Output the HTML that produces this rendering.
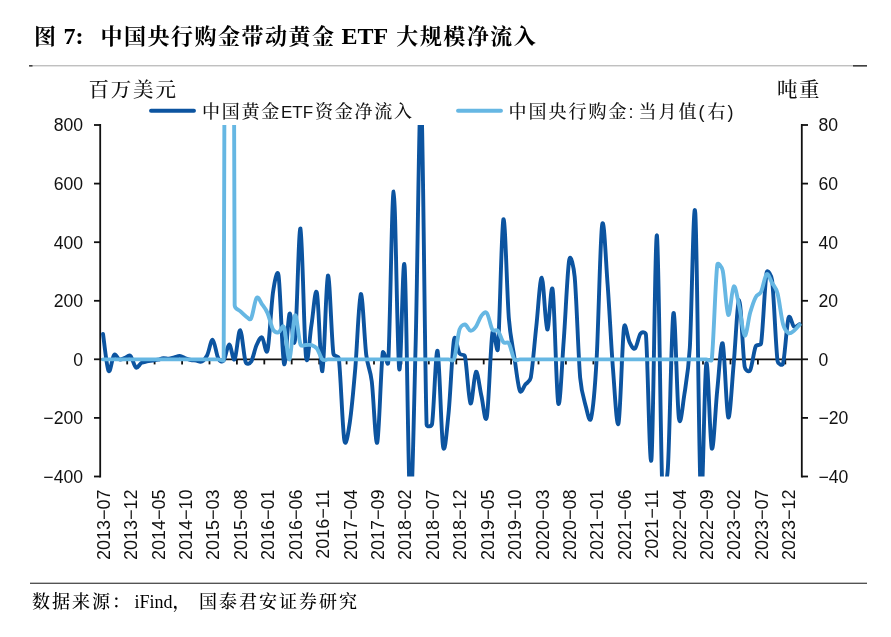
<!DOCTYPE html>
<html lang="zh-CN"><head><meta charset="utf-8"><title>图 7</title>
<style>
html,body{margin:0;padding:0;background:#fff;}
body{width:891px;height:637px;position:relative;overflow:hidden;font-family:"Liberation Serif","Noto Serif CJK SC",serif;color:#000;}
.title{position:absolute;left:34px;top:20px;font-size:22px;font-weight:bold;line-height:32px;white-space:nowrap;letter-spacing:1.5px;font-family:"Liberation Serif","Noto Serif CJK SC",serif;}
.title .en{letter-spacing:0;font-size:24px;}
.src{font-weight:500;position:absolute;left:32px;top:588px;font-size:18px;line-height:28px;white-space:nowrap;letter-spacing:2px;font-family:"Liberation Serif","Noto Serif CJK SC",serif;}
.src .en{letter-spacing:0;}
svg{position:absolute;left:0;top:0;}
.ax{font-family:"Liberation Sans",sans-serif;font-size:17.6px;fill:#111;}
.xl{font-family:"Liberation Sans",sans-serif;font-size:18px;fill:#111;}
.cj{font-family:"Liberation Sans","Noto Serif CJK SC",serif;fill:#111;font-weight:500;}
</style></head><body>
<div class="title"><span id="t1">图</span><span class="en" id="t2" style="margin-right:17px">&nbsp;7:</span><span id="t3">中国央行购金带动黄金</span><span class="en" id="t4" style="margin:0 2px 0 0">&nbsp;ETF&nbsp;</span><span id="t5">大规模净流入</span></div>
<svg width="891" height="637" viewBox="0 0 891 637">
<defs><clipPath id="cp"><rect x="98" y="125.0" width="706" height="351.5"/></clipPath></defs>
<rect x="30" y="65.3" width="837" height="1" fill="#a6a6a6"/>
<rect x="29" y="65.2" width="3.5" height="1.3" fill="#222"/><rect x="853" y="65.2" width="14" height="1.3" fill="#222"/>
<rect x="30" y="582.7" width="837" height="1.1" fill="#2a2a2a"/>
<g stroke="#111" stroke-width="1.8" fill="none">
<path d="M100.2,124.1V477.4"/>
<path d="M801.8,124.1V477.4"/>
<path d="M100,359.4H802"/>
<path d="M94,125.0H100.2"/><path d="M801.8,125.0H808"/>
<path d="M94,183.6H100.2"/><path d="M801.8,183.6H808"/>
<path d="M94,242.2H100.2"/><path d="M801.8,242.2H808"/>
<path d="M94,300.8H100.2"/><path d="M801.8,300.8H808"/>
<path d="M94,359.3H100.2"/><path d="M801.8,359.3H808"/>
<path d="M94,417.9H100.2"/><path d="M801.8,417.9H808"/>
<path d="M94,476.5H100.2"/><path d="M801.8,476.5H808"/>
<path d="M127.2,359.4V364.4"/><path d="M154.6,359.4V364.4"/><path d="M182.1,359.4V364.4"/><path d="M209.5,359.4V364.4"/><path d="M236.9,359.4V364.4"/><path d="M264.3,359.4V364.4"/><path d="M291.7,359.4V364.4"/><path d="M319.2,359.4V364.4"/><path d="M346.6,359.4V364.4"/><path d="M374.0,359.4V364.4"/><path d="M401.4,359.4V364.4"/><path d="M428.8,359.4V364.4"/><path d="M456.3,359.4V364.4"/><path d="M483.7,359.4V364.4"/><path d="M511.1,359.4V364.4"/><path d="M538.5,359.4V364.4"/><path d="M565.9,359.4V364.4"/><path d="M593.4,359.4V364.4"/><path d="M620.8,359.4V364.4"/><path d="M648.2,359.4V364.4"/><path d="M675.6,359.4V364.4"/><path d="M703.0,359.4V364.4"/><path d="M730.5,359.4V364.4"/><path d="M757.9,359.4V364.4"/><path d="M785.3,359.4V364.4"/>
</g>
<text class="ax" x="83" y="131.4" text-anchor="end">800</text><text class="ax" x="818.5" y="131.4">80</text>
<text class="ax" x="83" y="190.0" text-anchor="end">600</text><text class="ax" x="818.5" y="190.0">60</text>
<text class="ax" x="83" y="248.6" text-anchor="end">400</text><text class="ax" x="818.5" y="248.6">40</text>
<text class="ax" x="83" y="307.1" text-anchor="end">200</text><text class="ax" x="818.5" y="307.1">20</text>
<text class="ax" x="83" y="365.7" text-anchor="end">0</text><text class="ax" x="818.5" y="365.7">0</text>
<text class="ax" x="83" y="424.3" text-anchor="end">−200</text><text class="ax" x="818.5" y="424.3">−20</text>
<text class="ax" x="83" y="482.9" text-anchor="end">−400</text><text class="ax" x="818.5" y="482.9">−40</text>
<text class="xl" transform="translate(109.7,489.5) rotate(-90)" text-anchor="end">2013−07</text>
<text class="xl" transform="translate(137.2,489.5) rotate(-90)" text-anchor="end">2013−12</text>
<text class="xl" transform="translate(164.6,489.5) rotate(-90)" text-anchor="end">2014−05</text>
<text class="xl" transform="translate(192.0,489.5) rotate(-90)" text-anchor="end">2014−10</text>
<text class="xl" transform="translate(219.4,489.5) rotate(-90)" text-anchor="end">2015−03</text>
<text class="xl" transform="translate(246.8,489.5) rotate(-90)" text-anchor="end">2015−08</text>
<text class="xl" transform="translate(274.3,489.5) rotate(-90)" text-anchor="end">2016−01</text>
<text class="xl" transform="translate(301.7,489.5) rotate(-90)" text-anchor="end">2016−06</text>
<text class="xl" transform="translate(329.1,489.5) rotate(-90)" text-anchor="end">2016−11</text>
<text class="xl" transform="translate(356.5,489.5) rotate(-90)" text-anchor="end">2017−04</text>
<text class="xl" transform="translate(383.9,489.5) rotate(-90)" text-anchor="end">2017−09</text>
<text class="xl" transform="translate(411.4,489.5) rotate(-90)" text-anchor="end">2018−02</text>
<text class="xl" transform="translate(438.8,489.5) rotate(-90)" text-anchor="end">2018−07</text>
<text class="xl" transform="translate(466.2,489.5) rotate(-90)" text-anchor="end">2018−12</text>
<text class="xl" transform="translate(493.6,489.5) rotate(-90)" text-anchor="end">2019−05</text>
<text class="xl" transform="translate(521.0,489.5) rotate(-90)" text-anchor="end">2019−10</text>
<text class="xl" transform="translate(548.5,489.5) rotate(-90)" text-anchor="end">2020−03</text>
<text class="xl" transform="translate(575.9,489.5) rotate(-90)" text-anchor="end">2020−08</text>
<text class="xl" transform="translate(603.3,489.5) rotate(-90)" text-anchor="end">2021−01</text>
<text class="xl" transform="translate(630.7,489.5) rotate(-90)" text-anchor="end">2021−06</text>
<text class="xl" transform="translate(658.1,489.5) rotate(-90)" text-anchor="end">2021−11</text>
<text class="xl" transform="translate(685.6,489.5) rotate(-90)" text-anchor="end">2022−04</text>
<text class="xl" transform="translate(713.0,489.5) rotate(-90)" text-anchor="end">2022−09</text>
<text class="xl" transform="translate(740.4,489.5) rotate(-90)" text-anchor="end">2023−02</text>
<text class="xl" transform="translate(767.8,489.5) rotate(-90)" text-anchor="end">2023−07</text>
<text class="xl" transform="translate(795.2,489.5) rotate(-90)" text-anchor="end">2023−12</text>
<text class="cj" x="88.5" y="97" font-size="20.5" letter-spacing="1.8">百万美元</text>
<text class="cj" x="777" y="96.5" font-size="20.5" letter-spacing="1.5">吨重</text>
<path d="M151,110.8H194" stroke="#0c54a0" stroke-width="3.9" stroke-linecap="round"/>
<text class="cj" x="202" y="118" font-size="18" letter-spacing="1.75">中国黄金<tspan letter-spacing="0" font-size="17">ETF</tspan><tspan dx="2">资金净流入</tspan></text>
<path d="M458,110.8H501" stroke="#66b7e3" stroke-width="3.9" stroke-linecap="round"/>
<text class="cj" x="508.5" y="118" font-size="18" letter-spacing="2">中国央行购金<tspan letter-spacing="5">:</tspan>当月值<tspan letter-spacing="3">(</tspan>右<tspan letter-spacing="0">)</tspan></text>
<g clip-path="url(#cp)" fill="none" stroke-linejoin="round" stroke-linecap="round">
<path d="M103.04,333.92C103.96,340.07 106.70,367.31 108.53,370.82C110.35,374.34 112.18,356.91 114.01,355.01C115.84,353.10 117.67,358.91 119.49,359.40C121.32,359.89 123.15,358.52 124.98,357.94C126.81,357.35 128.63,354.27 130.46,355.89C132.29,357.50 134.12,366.43 135.95,367.60C137.77,368.77 139.60,363.94 141.43,362.91C143.26,361.89 145.09,361.84 146.91,361.45C148.74,361.06 150.57,360.86 152.40,360.57C154.23,360.28 156.05,360.08 157.88,359.69C159.71,359.30 161.54,358.37 163.37,358.23C165.19,358.08 167.02,358.96 168.85,358.81C170.68,358.67 172.51,357.84 174.33,357.35C176.16,356.86 177.99,355.74 179.82,355.89C181.65,356.03 183.47,357.54 185.30,358.23C187.13,358.91 188.96,359.60 190.79,359.99C192.61,360.38 194.44,360.33 196.27,360.57C198.10,360.82 199.93,362.38 201.75,361.45C203.58,360.52 205.41,358.62 207.24,355.01C209.07,351.39 210.89,339.24 212.72,339.78C214.55,340.31 216.38,354.76 218.21,358.23C219.60,360.87 221.86,362.87 223.69,360.57C225.52,358.28 227.35,344.66 229.17,344.46C231.00,344.27 232.83,361.79 234.66,359.40C236.49,357.01 238.31,329.67 240.14,330.11C241.97,330.55 243.80,356.76 245.63,362.04C246.53,364.63 249.62,364.05 251.11,361.74C252.94,358.91 254.77,349.10 256.59,345.05C258.42,341.00 260.25,336.55 262.08,337.43C263.91,338.31 265.92,357.13 267.56,350.32C269.39,342.75 271.22,304.53 273.05,292.03C274.32,283.34 277.20,266.65 278.53,275.34C280.36,287.30 282.19,357.40 284.01,363.79C285.84,370.19 287.67,317.61 289.50,313.71C291.33,309.80 293.25,353.86 294.98,340.36C296.81,326.16 298.64,225.79 300.47,228.47C302.29,231.16 304.12,340.36 305.95,356.47C307.74,372.28 309.61,335.72 311.43,325.13C313.26,314.54 315.09,285.25 316.92,292.91C318.75,300.58 320.57,374.00 322.40,371.12C324.23,368.24 326.06,278.56 327.89,275.63C329.71,272.70 331.54,339.68 333.37,353.54C333.87,357.31 338.38,355.04 338.85,358.81C340.68,373.26 342.51,429.65 344.34,440.24C345.93,449.45 348.42,431.61 349.82,422.37C351.65,410.36 353.48,389.57 355.31,368.19C357.13,346.81 358.96,296.28 360.79,294.08C362.62,291.89 364.45,340.46 366.27,355.01C367.95,368.36 370.09,368.01 371.76,381.37C373.59,395.96 375.41,447.32 377.24,442.58C379.07,437.85 380.90,366.23 382.73,352.96C383.50,347.32 387.82,368.59 388.21,362.91C390.04,336.02 391.87,190.59 393.69,191.57C395.52,192.54 397.35,356.28 399.18,368.77C401.01,381.27 402.83,243.70 404.66,266.55C406.49,289.40 408.32,492.82 410.15,505.85C411.97,518.88 413.80,413.10 415.63,344.75C417.46,276.41 419.29,82.46 421.11,95.79C422.94,109.12 424.77,370.04 426.60,424.72C426.69,427.49 431.67,426.58 432.08,423.84C433.91,411.54 435.74,347.15 437.57,350.91C439.39,354.66 441.22,435.94 443.05,446.39C444.88,456.84 446.84,430.13 448.53,413.59C450.36,395.77 452.19,349.49 454.02,339.48C455.37,332.06 457.67,350.71 459.50,353.54C461.19,356.15 464.32,353.44 464.99,356.47C466.81,364.77 468.64,400.80 470.47,403.33C472.30,405.87 474.13,372.92 475.95,371.70C477.78,370.48 479.61,388.54 481.44,396.01C483.27,403.48 485.11,426.97 486.92,416.52C488.75,405.97 490.58,344.02 492.41,332.75C493.77,324.35 497.07,357.32 497.89,348.86C499.72,329.96 501.55,224.47 503.37,219.39C505.20,214.32 507.03,295.45 508.86,318.39C510.41,337.86 512.51,345.00 514.34,357.06C516.17,369.11 518.00,386.15 519.83,390.74C521.35,394.57 523.48,386.79 525.31,384.59C527.14,382.39 529.97,381.94 530.79,377.56C532.62,367.89 534.45,343.24 536.28,326.60C538.11,309.95 539.93,277.19 541.76,277.68C543.59,278.17 545.42,327.43 547.25,329.52C549.07,331.62 550.90,278.02 552.73,290.28C554.56,302.53 556.39,394.60 558.21,403.04C560.04,411.49 561.87,364.77 563.70,340.95C565.53,317.12 567.35,270.80 569.18,260.11C570.66,251.45 573.85,268.05 574.67,276.80C576.49,296.38 578.32,356.08 580.15,377.56C581.36,391.83 583.81,398.94 585.63,405.68C587.40,412.18 589.56,424.53 591.12,417.98C592.95,410.27 594.93,388.77 596.60,359.40C598.43,327.28 600.26,237.85 602.09,225.25C603.91,212.66 605.74,259.72 607.57,283.83C609.40,307.95 611.23,346.71 613.05,369.94C614.88,393.18 616.71,430.38 618.54,423.25C620.37,416.12 622.19,340.70 624.02,327.18C625.09,319.30 627.68,338.56 629.51,342.12C631.33,345.68 633.16,349.98 634.99,348.56C636.82,347.15 638.65,335.92 640.47,333.62C642.22,331.43 645.71,332.00 645.96,334.80C647.79,355.74 649.61,475.83 651.44,459.28C653.27,442.73 655.10,230.18 656.93,235.50C658.75,240.82 660.58,452.49 662.41,491.20C662.98,503.22 667.15,479.78 667.89,467.77C669.72,438.14 671.55,321.71 673.38,313.41C675.21,305.12 677.03,404.46 678.86,417.98C680.47,429.90 682.52,406.26 684.35,394.55C686.17,382.83 688.41,371.23 689.83,347.68C691.66,317.47 693.49,188.35 695.31,213.24C697.14,238.14 698.97,472.02 700.80,497.06C702.63,522.11 704.45,371.60 706.28,363.50C708.11,355.40 709.94,444.00 711.77,448.44C713.59,452.88 715.42,407.63 717.25,390.15C719.08,372.68 720.91,339.04 722.73,343.58C724.56,348.12 726.39,414.03 728.22,417.39C730.05,420.76 731.87,383.32 733.70,363.79C735.53,344.27 737.36,299.75 739.19,300.23C741.01,300.72 742.84,355.06 744.67,366.72C745.17,369.94 748.60,373.10 750.15,370.24C751.98,366.87 753.81,351.00 755.64,346.51C756.84,343.57 760.65,346.44 761.12,343.29C762.95,330.99 764.78,283.20 766.61,272.70C767.41,268.08 771.51,275.66 772.09,280.32C773.92,295.06 775.75,347.29 777.57,361.16C777.96,364.11 782.33,366.39 783.06,363.50C784.89,356.28 786.71,323.96 788.54,317.81C790.02,312.84 792.20,325.52 794.03,326.60C795.85,327.67 798.60,324.64 799.51,324.25" stroke="#0c54a0" stroke-width="3.9"/>
<path d="M103.04,359.40C103.96,359.40 106.70,359.40 108.53,359.40C110.35,359.40 112.18,359.40 114.01,359.40C115.84,359.40 117.67,359.40 119.49,359.40C121.32,359.40 123.15,359.40 124.98,359.40C126.81,359.40 128.63,359.40 130.46,359.40C132.29,359.40 134.12,359.40 135.95,359.40C137.77,359.40 139.60,359.40 141.43,359.40C143.26,359.40 145.09,359.40 146.91,359.40C148.74,359.40 150.57,359.40 152.40,359.40C154.23,359.40 156.05,359.40 157.88,359.40C159.71,359.40 161.54,359.40 163.37,359.40C165.19,359.40 167.02,359.40 168.85,359.40C170.68,359.40 172.51,359.40 174.33,359.40C176.16,359.40 177.99,359.40 179.82,359.40C181.65,359.40 183.47,359.40 185.30,359.40C187.13,359.40 188.96,359.40 190.79,359.40C192.61,359.40 194.44,359.40 196.27,359.40C198.10,359.40 199.93,359.40 201.75,359.40C203.58,359.40 205.41,359.40 207.24,359.40C209.07,359.40 210.89,359.40 212.72,359.40C214.55,359.40 216.38,359.40 218.21,359.40C220.03,359.40 223.67,362.14 223.69,359.40C225.52,64.55 227.35,-1400.68 229.17,-1409.72C231.00,-1418.75 232.83,18.42 234.66,305.21C234.68,309.23 238.31,309.27 240.14,311.07C241.97,312.88 243.80,314.83 245.63,316.05C247.45,317.27 249.57,320.95 251.11,318.39C252.94,315.37 254.77,300.23 256.59,297.89C258.42,295.55 260.25,301.80 262.08,304.33C263.91,306.87 265.73,308.92 267.56,313.12C269.39,317.32 271.22,326.30 273.05,329.52C274.58,332.23 276.70,332.84 278.53,332.45C280.36,332.06 282.58,323.66 284.01,327.18C285.84,331.67 287.67,361.35 289.50,359.40C291.33,357.45 293.15,317.95 294.98,315.46C296.81,312.98 298.64,339.53 300.47,344.46C301.42,347.05 304.12,344.95 305.95,345.05C307.78,345.15 309.61,344.46 311.43,345.05C313.26,345.63 315.09,346.17 316.92,348.56C318.75,350.95 320.57,357.59 322.40,359.40C324.23,361.21 326.06,359.40 327.89,359.40C329.71,359.40 331.54,359.40 333.37,359.40C335.20,359.40 337.03,359.40 338.85,359.40C340.68,359.40 342.51,359.40 344.34,359.40C346.17,359.40 347.99,359.40 349.82,359.40C351.65,359.40 353.48,359.40 355.31,359.40C357.13,359.40 358.96,359.40 360.79,359.40C362.62,359.40 364.45,359.40 366.27,359.40C368.10,359.40 369.93,359.40 371.76,359.40C373.59,359.40 375.41,359.40 377.24,359.40C379.07,359.40 380.90,359.40 382.73,359.40C384.55,359.40 386.38,359.40 388.21,359.40C390.04,359.40 391.87,359.40 393.69,359.40C395.52,359.40 397.35,359.40 399.18,359.40C401.01,359.40 402.83,359.40 404.66,359.40C406.49,359.40 408.32,359.40 410.15,359.40C411.97,359.40 413.80,359.40 415.63,359.40C417.46,359.40 419.29,359.40 421.11,359.40C422.94,359.40 424.77,359.40 426.60,359.40C428.43,359.40 430.25,359.40 432.08,359.40C433.91,359.40 435.74,359.40 437.57,359.40C439.39,359.40 441.22,359.40 443.05,359.40C444.88,359.40 446.71,359.40 448.53,359.40C450.36,359.40 453.07,361.97 454.02,359.40C455.85,354.42 457.67,335.33 459.50,329.52C460.61,325.99 463.16,324.35 464.99,324.54C466.81,324.74 468.64,330.35 470.47,330.70C472.30,331.04 474.13,329.08 475.95,326.60C477.78,324.11 479.61,318.00 481.44,315.76C483.27,313.51 485.09,310.78 486.92,313.12C488.75,315.47 490.58,326.89 492.41,329.82C493.88,332.17 496.06,328.65 497.89,330.70C499.72,332.75 501.55,340.02 503.37,342.12C505.20,344.22 507.36,340.92 508.86,343.29C510.69,346.17 512.51,356.72 514.34,359.40C515.89,361.67 518.00,359.40 519.83,359.40C521.65,359.40 523.48,359.40 525.31,359.40C527.14,359.40 528.97,359.40 530.79,359.40C532.62,359.40 534.45,359.40 536.28,359.40C538.11,359.40 539.93,359.40 541.76,359.40C543.59,359.40 545.42,359.40 547.25,359.40C549.07,359.40 550.90,359.40 552.73,359.40C554.56,359.40 556.39,359.40 558.21,359.40C560.04,359.40 561.87,359.40 563.70,359.40C565.53,359.40 567.35,359.40 569.18,359.40C571.01,359.40 572.84,359.40 574.67,359.40C576.49,359.40 578.32,359.40 580.15,359.40C581.98,359.40 583.81,359.40 585.63,359.40C587.46,359.40 589.29,359.40 591.12,359.40C592.95,359.40 594.77,359.40 596.60,359.40C598.43,359.40 600.26,359.40 602.09,359.40C603.91,359.40 605.74,359.40 607.57,359.40C609.40,359.40 611.23,359.40 613.05,359.40C614.88,359.40 616.71,359.40 618.54,359.40C620.37,359.40 622.19,359.40 624.02,359.40C625.85,359.40 627.68,359.40 629.51,359.40C631.33,359.40 633.16,359.40 634.99,359.40C636.82,359.40 638.65,359.40 640.47,359.40C642.30,359.40 644.13,359.40 645.96,359.40C647.79,359.40 649.61,359.40 651.44,359.40C653.27,359.40 655.10,359.40 656.93,359.40C658.75,359.40 660.58,359.40 662.41,359.40C664.24,359.40 666.07,359.40 667.89,359.40C669.72,359.40 671.55,359.40 673.38,359.40C675.21,359.40 677.03,359.40 678.86,359.40C680.69,359.40 682.52,359.40 684.35,359.40C686.17,359.40 688.00,359.40 689.83,359.40C691.66,359.40 693.49,359.40 695.31,359.40C697.14,359.40 698.97,359.40 700.80,359.40C702.63,359.40 704.45,359.40 706.28,359.40C708.11,359.40 711.45,362.12 711.77,359.40C713.59,343.68 715.42,279.88 717.25,265.09C717.73,261.21 721.89,266.84 722.73,270.65C724.56,278.95 726.39,312.24 728.22,314.88C730.05,317.52 731.87,287.93 733.70,286.47C735.53,285.00 737.36,297.89 739.19,306.09C741.01,314.29 742.84,334.55 744.67,335.68C746.50,336.80 748.33,319.22 750.15,312.83C751.98,306.43 753.81,300.82 755.64,297.31C757.44,293.84 759.45,295.27 761.12,291.74C762.95,287.88 764.78,275.63 766.61,274.17C768.43,272.70 770.26,279.73 772.09,282.95C773.92,286.17 776.05,287.75 777.57,293.50C779.40,300.38 781.23,317.66 783.06,324.25C784.44,329.24 786.71,331.97 788.54,333.04C790.37,334.11 792.20,332.06 794.03,330.70C795.85,329.33 798.60,325.81 799.51,324.84" stroke="#66b7e3" stroke-width="3.9"/>
</g>
</svg>
<div class="src">数据来源：<span class="en" style="margin-left:2.5px">iFind</span>，<span style="margin-left:6.5px">国泰君安证券研究</span></div>
</body></html>
